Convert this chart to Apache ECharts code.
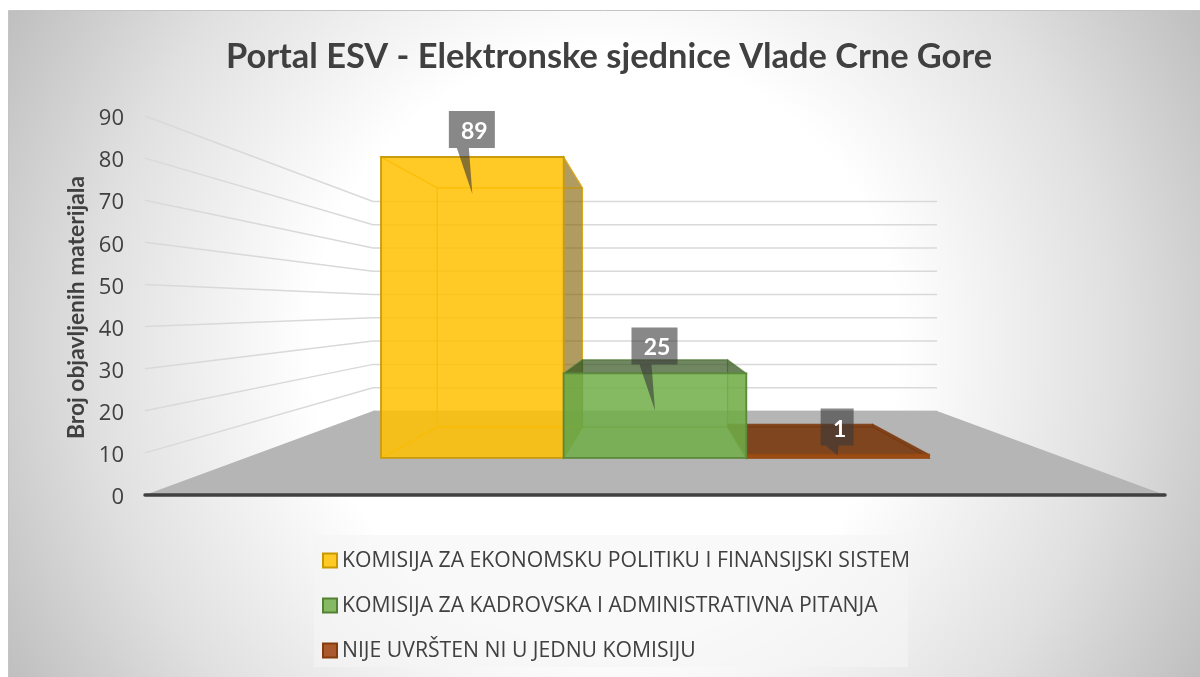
<!DOCTYPE html>
<html><head><meta charset="utf-8">
<style>html,body{margin:0;padding:0;background:#fff}#c{width:1200px;height:677px}</style>
<script src="https://cdn.jsdelivr.net/npm/echarts@6/dist/echarts.min.js"></script>
</head><body><div id="c"></div>
<script>
const titleText = 'Portal ESV - Elektronske sjednice Vlade Crne Gore';
const axisTitle = 'Broj objavljenih materijala';
const categories = ['Portal ESV'];
const seriesNames = ['KOMISIJA ZA EKONOMSKU POLITIKU I FINANSIJSKI SISTEM','KOMISIJA ZA KADROVSKA I ADMINISTRATIVNA PITANJA','NIJE UVRŠTEN NI U JEDNU KOMISIJU'];
const seriesValues = [89, 25, 1];
const valueTicks = [0,10,20,30,40,50,60,70,80,90];

const FONT = '"Open Sans", sans-serif';
const BOLD_FONT = 'Lato, "Open Sans", sans-serif';
const VP_Y = 307;               // vanishing point height of the 3D view (px)
const S_WALL = 0.553, S_FRONT = 0.803, S_BACK = 0.638;  // perspective scale at each depth
const BAR_W = 0.223;            // bar width as a share of the category band
const TIP_DROP = [37, 37, 1];   // callout tail length below the bar's front top

const styles = [
  {fill:'rgba(255,192,0,.85)', edge:'#c99c10', inner:'rgba(225,165,0,.6)', sideL:null, sideR:'rgba(127,96,0,.62)', top:null, legend:'#ffc926', legendEdge:'#c99a00'},
  {fill:'rgba(112,173,71,.85)', edge:'#5a8a3a', inner:'rgba(84,130,53,.45)', sideL:'rgba(60,110,30,.12)', sideR:'rgba(60,110,30,.12)', top:'rgba(56,87,35,.72)', legend:'#85b963', legendEdge:'#548235'},
  {fill:'rgba(158,72,14,.95)', edge:'#964a10', inner:'rgba(132,60,12,.5)', sideL:'rgba(120,55,10,.55)', sideR:null, top:'rgba(118,54,10,.88)', legend:'#a9592b', legendEdge:'#843c0c'}
];

function project(pt, vx, s){ return [vx + (pt[0]-vx)*s, VP_Y + (pt[1]-VP_Y)*s]; }

function poly(points, fill, stroke, w){
  return {type:'polygon', shape:{points}, style:{fill:fill||'none', stroke:stroke||'none', lineWidth:w||1}};
}

function renderBar(idx){
  return function(params, api){
    const v = api.value(1);
    const center = api.coord([0, v]);
    const base = api.coord([0, 0]);
    const vx = center[0];
    const w = api.size([1,0])[0] * BAR_W;
    const l = vx + (idx-1.5)*w, r = l + w;
    const fT = [project([l,center[1]],vx,S_FRONT), project([r,center[1]],vx,S_FRONT)];
    const fB = [project([l,base[1]],vx,S_FRONT), project([r,base[1]],vx,S_FRONT)];
    const bT = [project([l,center[1]],vx,S_BACK), project([r,center[1]],vx,S_BACK)];
    const bB = [project([l,base[1]],vx,S_BACK), project([r,base[1]],vx,S_BACK)];
    const st = styles[idx];
    const kids = [];
    kids.push(poly([bT[0],bT[1],bB[1],bB[0]], null, st.inner, 1.2));
    kids.push(poly([fT[0],bT[0],bB[0],fB[0]], st.sideL, st.inner, 1.2));
    kids.push(poly([fT[1],bT[1],bB[1],fB[1]], st.sideR, st.inner, 1.2));
    kids.push(poly([fB[0],fB[1],bB[1],bB[0]], null, st.inner, 1.2));
    kids.push(poly([fT[0],fT[1],bT[1],bT[0]], st.top, st.inner, 1.2));
    kids.push(poly([fT[0],fT[1],fB[1],fB[0]], st.fill, st.edge, 1.8));
    const mid = (fT[0][0]+fT[1][0])/2;
    const text = String(v);
    const bw = text.length > 1 ? 46 : 33, bh = 37, gap = 9;
    const by0 = fT[0][1] - gap - bh, by1 = fT[0][1] - gap;
    const bx0 = mid - bw/2 - 0.5, bx1 = bx0 + bw;
    const tail = text.length > 1 ? [bx0+8, bx0+20] : [bx0+5, bx0+18];
    kids.push(poly([[bx0,by0],[bx1,by0],[bx1,by1],[tail[1],by1],[mid,fT[0][1]+TIP_DROP[idx]],[tail[0],by1],[bx0,by1]], 'rgba(57,57,57,.6)'));
    kids.push({type:'text', style:{text, x:mid+2, y:by0+bh/2+2, fill:'#fff', font:'bold 23px '+BOLD_FONT, align:'center', verticalAlign:'middle'}});
    return {type:'group', children:kids};
  };
}

function renderGrid(params, api){
  const v = api.value(1);
  const p = api.coord([0,v]);
  const vx = p[0];
  const cs = params.coordSys;
  const left = [cs.x, p[1]];
  const a = project(left, vx, S_WALL);
  const b = [2*vx - a[0], a[1]];
  return {type:'polyline', shape:{points: v===0 ? [a,b] : [left,a,b]}, style:{fill:'none', stroke:'#d9d9d9', lineWidth:1.5}, z2:1};
}

function renderFloor(params, api){
  const p = api.coord([0,0]);
  const vx = p[0], cs = params.coordSys;
  const L=[cs.x,p[1]], R=[cs.x+cs.width,p[1]];
  return poly([L,R,project(R,vx,S_WALL),project(L,vx,S_WALL)],'#b5b5b5');
}

const option = {
  animation:false,
  backgroundColor:'#fff',
  title:{text:titleText, left:604, textAlign:'center', top:35, textStyle:{fontFamily:BOLD_FONT, fontWeight:'bold', fontSize:34.4, color:'#404040'}},
  graphic:[
    {type:'rect', z:-10, shape:{x:8.5,y:10.5,width:1192,height:667}, style:{stroke:'#c4c4c4', lineWidth:1, fill:{type:'radial',x:0.5,y:0.5,r:1.02,colorStops:[{offset:0,color:'#fff'},{offset:0.43,color:'#fff'},{offset:0.75,color:'#e0e0e0'},{offset:1,color:'#bfbfbf'}]}}},
    {type:'rect', z:-9, shape:{x:314,y:535,width:594,height:132}, style:{fill:'rgba(245,245,245,.6)'}}
  ],
  legend:{orient:'vertical', left:322, top:550, padding:0, itemWidth:14, itemHeight:14, itemGap:24, icon:'rect',
    textStyle:{fontFamily:FONT, fontSize:21.2, color:'#404040', height:20, lineHeight:20},
    data:seriesNames},
  grid:{left:145, top:116, width:1020, height:379, containLabel:false},
  xAxis:{type:'category', data:categories, axisTick:{show:false}, axisLabel:{show:false}, splitLine:{show:false},
    axisLine:{show:true, lineStyle:{color:'#404040', width:3.5, cap:'round'}}, z:6},
  yAxis:{type:'value', min:0, max:90, interval:10,
    name:axisTitle, nameLocation:'middle', nameGap:51, nameRotate:90,
    nameTextStyle:{fontFamily:BOLD_FONT, fontWeight:'bold', fontSize:22.8, color:'#404040', padding:[0,4,0,0]},
    axisLine:{show:false}, axisTick:{show:false}, splitLine:{show:false},
    axisLabel:{margin:21, formatter:'{t|{value}}', rich:{t:{fontFamily:FONT, fontSize:22, color:'#404040', padding:[6,0,0,0]}}}},
  series:[
    {type:'custom', name:'walls', z:1, silent:true, renderItem:renderGrid, data:valueTicks.map(t=>[0,t])},
    {type:'custom', name:'floor', z:2, silent:true, renderItem:renderFloor, data:[[0,0]]},
    ...seriesNames.map((n,i)=>({type:'custom', name:n, z:[3,5,4][i], renderItem:renderBar(i), data:[[0,seriesValues[i]]],
      itemStyle:{color:styles[i].legend, borderColor:styles[i].legendEdge, borderWidth:1.5}}))
  ]
};
const chart = echarts.init(document.getElementById('c'), null, {renderer:'canvas', width:1200, height:677});
chart.setOption(option);
</script></body></html>
